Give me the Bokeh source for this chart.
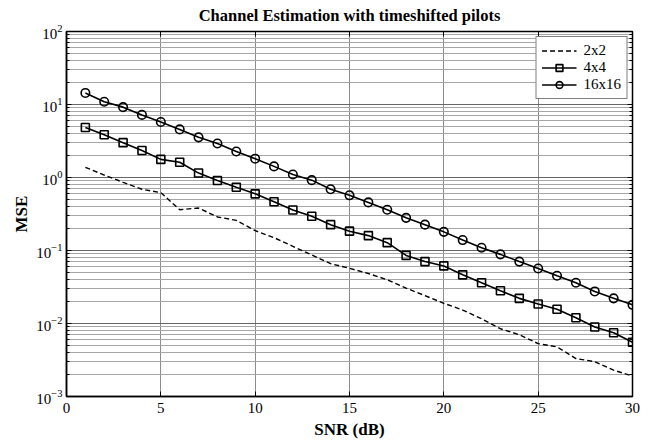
from bokeh.plotting import figure
from bokeh.models import (LogAxis, LinearAxis, SingleIntervalTicker, LogTicker,
                          Range1d, Legend, LegendItem, CustomJSTickFormatter)
from bokeh.embed import file_html
from bokeh.resources import INLINE

snr = list(range(1, 31))
mse_2x2 = [1.38, 1.08, 0.86, 0.69, 0.62, 0.362, 0.382, 0.288, 0.259, 0.187,
           0.150, 0.114, 0.0868, 0.066, 0.057, 0.0484, 0.0397, 0.0305, 0.0241, 0.0189,
           0.0153, 0.0116, 0.00848, 0.00702, 0.0053, 0.00478, 0.00331, 0.0030, 0.0023, 0.0019]
mse_4x4 = [4.85, 3.86, 3.0, 2.34, 1.77, 1.62, 1.15, 0.91, 0.736, 0.597,
           0.465, 0.358, 0.294, 0.226, 0.184, 0.160, 0.128, 0.0857, 0.0705, 0.0615,
           0.0464, 0.0361, 0.0281, 0.0221, 0.0185, 0.0157, 0.0120, 0.00894, 0.00748, 0.00553]
mse_16x16 = [14.4, 10.9, 9.2, 7.2, 5.75, 4.56, 3.55, 2.92, 2.27, 1.81,
             1.42, 1.10, 0.92, 0.69, 0.57, 0.456, 0.362, 0.28, 0.226, 0.18,
             0.139, 0.109, 0.0885, 0.0705, 0.0566, 0.0451, 0.0362, 0.0275, 0.0221, 0.0180]
labels = ["2x2", "4x4", "16x16"]

FONT = "Liberation Serif"

p = figure(width=640, height=441, y_axis_type="log",
           x_range=Range1d(0, 30), y_range=Range1d(1e-3, 1e2),
           output_backend="svg", toolbar_location=None,
           min_border_left=66, min_border_right=8, min_border_top=30, min_border_bottom=43,
           title="Channel Estimation with timeshifted pilots")
p.title.align = "center"
p.title.vertical_align = "top"
p.title.text_font = FONT
p.title.text_font_size = "16.5px"
p.title.text_font_style = "bold"
p.title.text_color = "black"
p.title.standoff = 10

p.outline_line_color = "black"
p.outline_line_width = 1.5
p.background_fill_color = "white"
p.border_fill_color = "white"

# axes
p.xaxis.ticker = SingleIntervalTicker(interval=5, num_minor_ticks=0)
p.yaxis.ticker = LogTicker(num_minor_ticks=10)
for ax in [p.xaxis[0], p.yaxis[0]]:
    ax.major_label_text_font = FONT
    ax.major_label_text_font_size = "15px"
    ax.major_label_text_color = "black"
    ax.axis_label_text_font = FONT
    ax.axis_label_text_font_size = "17px"
    ax.axis_label_text_font_style = "bold"
    ax.axis_label_text_color = "black"
    ax.major_tick_in = 5
    ax.major_tick_out = 0
    ax.minor_tick_in = 3
    ax.minor_tick_out = 0
    ax.axis_line_color = "black"
    ax.axis_line_width = 1.5
    ax.major_tick_line_color = "black"
    ax.minor_tick_line_color = "black"
p.xaxis.axis_label = "SNR (dB)"
p.yaxis.axis_label = "MSE"
p.xaxis.major_label_standoff = 6
p.xaxis.axis_label_standoff = 4
p.yaxis.major_label_standoff = 4
p.yaxis.axis_label_standoff = 2

right = LogAxis(ticker=LogTicker(num_minor_ticks=10),
                formatter=CustomJSTickFormatter(code="return ''"))
top = LinearAxis(ticker=SingleIntervalTicker(interval=5, num_minor_ticks=0),
                 formatter=CustomJSTickFormatter(code="return ''"))
for ax in [right, top]:
    ax.major_label_standoff = 0
    ax.major_tick_in = 5
    ax.major_tick_out = 0
    ax.minor_tick_in = 3
    ax.minor_tick_out = 0
    ax.axis_line_color = "black"
p.add_layout(right, "right")
p.add_layout(top, "above")

# grid
p.xgrid.grid_line_color = "#8c8c8c"
p.xgrid.grid_line_width = 1
p.ygrid.grid_line_color = "#666666"
p.ygrid.minor_grid_line_color = "#a6a6a6"

r1 = p.line(snr, mse_2x2, line_color="black", line_width=1.4, line_dash="5 3")
r2l = p.line(snr, mse_4x4, line_color="black", line_width=1.6)
r2m = p.scatter(snr, mse_4x4, marker="square", size=8, line_color="black",
                line_width=1.6, fill_color=None)
r3l = p.line(snr, mse_16x16, line_color="black", line_width=1.6)
r3m = p.scatter(snr, mse_16x16, marker="circle", size=8.5, line_color="black",
                line_width=1.6, fill_color=None)

legend = Legend(items=[LegendItem(label=labels[0], renderers=[r1]),
                       LegendItem(label=labels[1], renderers=[r2l, r2m]),
                       LegendItem(label=labels[2], renderers=[r3l, r3m])],
                location="top_right")
legend.label_text_font = FONT
legend.label_text_font_size = "15px"
legend.label_text_color = "black"
legend.border_line_color = "black"
legend.border_line_width = 1
legend.background_fill_alpha = 1
legend.margin = 5
legend.padding = 5
legend.spacing = 0
legend.glyph_width = 35
legend.glyph_height = 17
legend.label_height = 17
legend.label_standoff = 7
p.add_layout(legend)

open("out.html", "w").write(file_html(p, INLINE))
